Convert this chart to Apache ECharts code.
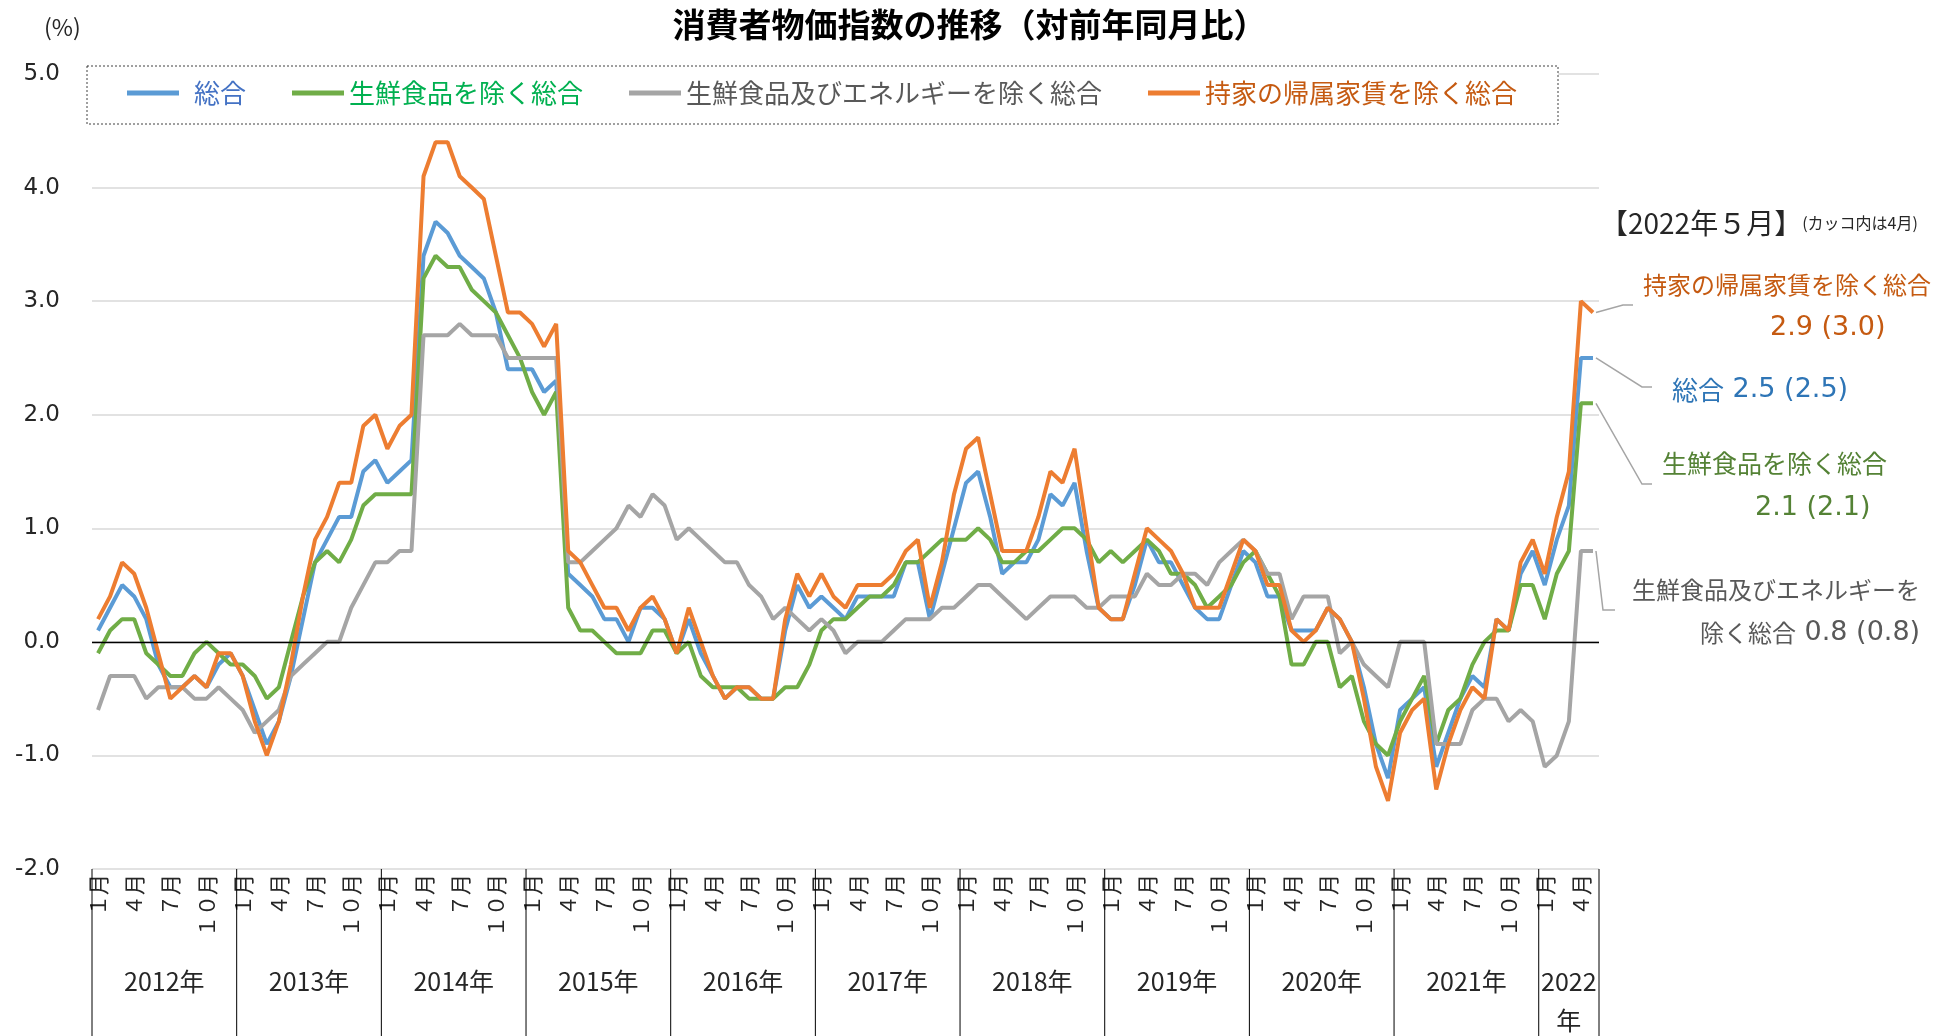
<!DOCTYPE html>
<html>
<head>
<meta charset="utf-8">
<title>消費者物価指数の推移</title>
<script src="https://cdn.jsdelivr.net/npm/echarts@6/dist/echarts.min.js"></script>
<style>
  html, body { margin: 0; padding: 0; background: #fff; }
  #chart { width: 1939px; height: 1036px; }
</style>
</head>
<body>
<div id="chart"></div>
<script>
const years = [2012, 2013, 2014, 2015, 2016, 2017, 2018, 2019, 2020, 2021, 2022]
const monthNames = ['１月', '２月', '３月', '４月', '５月', '６月', '７月', '８月', '９月', '１０月', '１１月', '１２月']

// 総合
const headline = [
  0.1, 0.3, 0.5, 0.4, 0.2, -0.2, -0.4, -0.4, -0.3, -0.4, -0.2, -0.1,
  -0.3, -0.6, -0.9, -0.7, -0.3, 0.2, 0.7, 0.9, 1.1, 1.1, 1.5, 1.6,
  1.4, 1.5, 1.6, 3.4, 3.7, 3.6, 3.4, 3.3, 3.2, 2.9, 2.4, 2.4,
  2.4, 2.2, 2.3, 0.6, 0.5, 0.4, 0.2, 0.2, 0.0, 0.3, 0.3, 0.2,
  -0.1, 0.2, -0.1, -0.3, -0.5, -0.4, -0.4, -0.5, -0.5, 0.1, 0.5, 0.3,
  0.4, 0.3, 0.2, 0.4, 0.4, 0.4, 0.4, 0.7, 0.7, 0.2, 0.6, 1.0,
  1.4, 1.5, 1.1, 0.6, 0.7, 0.7, 0.9, 1.3, 1.2, 1.4, 0.8, 0.3,
  0.2, 0.2, 0.5, 0.9, 0.7, 0.7, 0.5, 0.3, 0.2, 0.2, 0.5, 0.8,
  0.7, 0.4, 0.4, 0.1, 0.1, 0.1, 0.3, 0.2, 0.0, -0.4, -0.9, -1.2,
  -0.6, -0.5, -0.4, -1.1, -0.8, -0.5, -0.3, -0.4, 0.2, 0.1, 0.6, 0.8,
  0.5, 0.9, 1.2, 2.5, 2.5
]
// 生鮮食品を除く総合
const core = [
  -0.1, 0.1, 0.2, 0.2, -0.1, -0.2, -0.3, -0.3, -0.1, 0.0, -0.1, -0.2,
  -0.2, -0.3, -0.5, -0.4, 0.0, 0.4, 0.7, 0.8, 0.7, 0.9, 1.2, 1.3,
  1.3, 1.3, 1.3, 3.2, 3.4, 3.3, 3.3, 3.1, 3.0, 2.9, 2.7, 2.5,
  2.2, 2.0, 2.2, 0.3, 0.1, 0.1, 0.0, -0.1, -0.1, -0.1, 0.1, 0.1,
  -0.1, 0.0, -0.3, -0.4, -0.4, -0.4, -0.5, -0.5, -0.5, -0.4, -0.4, -0.2,
  0.1, 0.2, 0.2, 0.3, 0.4, 0.4, 0.5, 0.7, 0.7, 0.8, 0.9, 0.9,
  0.9, 1.0, 0.9, 0.7, 0.7, 0.8, 0.8, 0.9, 1.0, 1.0, 0.9, 0.7,
  0.8, 0.7, 0.8, 0.9, 0.8, 0.6, 0.6, 0.5, 0.3, 0.4, 0.5, 0.7,
  0.8, 0.6, 0.4, -0.2, -0.2, 0.0, 0.0, -0.4, -0.3, -0.7, -0.9, -1.0,
  -0.7, -0.5, -0.3, -0.9, -0.6, -0.5, -0.2, 0.0, 0.1, 0.1, 0.5, 0.5,
  0.2, 0.6, 0.8, 2.1, 2.1
]
// 生鮮食品及びエネルギーを除く総合
const coreCore = [
  -0.6, -0.3, -0.3, -0.3, -0.5, -0.4, -0.4, -0.4, -0.5, -0.5, -0.4, -0.5,
  -0.6, -0.8, -0.7, -0.6, -0.3, -0.2, -0.1, 0.0, 0.0, 0.3, 0.5, 0.7,
  0.7, 0.8, 0.8, 2.7, 2.7, 2.7, 2.8, 2.7, 2.7, 2.7, 2.5, 2.5,
  2.5, 2.5, 2.5, 0.7, 0.7, 0.8, 0.9, 1.0, 1.2, 1.1, 1.3, 1.2,
  0.9, 1.0, 0.9, 0.8, 0.7, 0.7, 0.5, 0.4, 0.2, 0.3, 0.2, 0.1,
  0.2, 0.1, -0.1, 0.0, 0.0, 0.0, 0.1, 0.2, 0.2, 0.2, 0.3, 0.3,
  0.4, 0.5, 0.5, 0.4, 0.3, 0.2, 0.3, 0.4, 0.4, 0.4, 0.3, 0.3,
  0.4, 0.4, 0.4, 0.6, 0.5, 0.5, 0.6, 0.6, 0.5, 0.7, 0.8, 0.9,
  0.8, 0.6, 0.6, 0.2, 0.4, 0.4, 0.4, -0.1, 0.0, -0.2, -0.3, -0.4,
  0.0, 0.0, 0.0, -0.9, -0.9, -0.9, -0.6, -0.5, -0.5, -0.7, -0.6, -0.7,
  -1.1, -1.0, -0.7, 0.8, 0.8
]
// 持家の帰属家賃を除く総合
const exRent = [
  0.2, 0.4, 0.7, 0.6, 0.3, -0.1, -0.5, -0.4, -0.3, -0.4, -0.1, -0.1,
  -0.3, -0.7, -1.0, -0.7, -0.2, 0.4, 0.9, 1.1, 1.4, 1.4, 1.9, 2.0,
  1.7, 1.9, 2.0, 4.1, 4.4, 4.4, 4.1, 4.0, 3.9, 3.4, 2.9, 2.9,
  2.8, 2.6, 2.8, 0.8, 0.7, 0.5, 0.3, 0.3, 0.1, 0.3, 0.4, 0.2,
  -0.1, 0.3, 0.0, -0.3, -0.5, -0.4, -0.4, -0.5, -0.5, 0.2, 0.6, 0.4,
  0.6, 0.4, 0.3, 0.5, 0.5, 0.5, 0.6, 0.8, 0.9, 0.3, 0.7, 1.3,
  1.7, 1.8, 1.3, 0.8, 0.8, 0.8, 1.1, 1.5, 1.4, 1.7, 1.0, 0.3,
  0.2, 0.2, 0.6, 1.0, 0.9, 0.8, 0.6, 0.3, 0.3, 0.3, 0.6, 0.9,
  0.8, 0.5, 0.5, 0.1, 0.0, 0.1, 0.3, 0.2, 0.0, -0.5, -1.1, -1.4,
  -0.8, -0.6, -0.5, -1.3, -0.9, -0.6, -0.4, -0.5, 0.2, 0.1, 0.7, 0.9,
  0.6, 1.1, 1.5, 3.0, 2.9
]

const N = headline.length
const categories = []
years.forEach(y => {
  monthNames.forEach(m => {
    if (categories.length < N) categories.push(y + '年' + m)
  })
})

const JP = 'Noto Sans CJK JP'
const NUM = 'DejaVu Sans'

const seriesDefs = [
  { name: '総合', data: headline, color: '#5B9BD5', legendColor: '#4472C4', noteColor: '#2E75B6' },
  { name: '生鮮食品を除く総合', data: core, color: '#70AD47', legendColor: '#00B050', noteColor: '#548235' },
  { name: '生鮮食品及びエネルギーを除く総合', data: coreCore, color: '#A5A5A5', legendColor: '#595959', noteColor: '#595959' },
  { name: '持家の帰属家賃を除く総合', data: exRent, color: '#ED7D31', legendColor: '#C55A11', noteColor: '#C55A11' }
]

const chart = echarts.init(document.getElementById('chart'))

const option = {
  animation: false,
  backgroundColor: '#fff',
  title: {
    text: '消費者物価指数の推移（対前年同月比）',
    left: 'center',
    top: 8,
    padding: 0,
    textStyle: { fontFamily: JP, fontSize: 33, fontWeight: 'bold', color: '#000' }
  },
  legend: {
    left: 127,
    top: 80,
    padding: 0,
    icon: 'rect',
    itemWidth: 52,
    itemHeight: 5,
    itemGap: 46,
    textStyle: { fontFamily: JP, fontSize: 26 },
    data: seriesDefs.map((s, i) => ({
      name: s.name,
      textStyle: { color: s.legendColor, padding: i === 0 ? [0, 0, 0, 10] : 0 }
    }))
  },
  grid: { left: 92, right: 340, top: 74, bottom: 167, outerBoundsMode: 'none' },
  xAxis: {
    type: 'category',
    data: categories,
    boundaryGap: true,
    axisLine: { show: false },
    axisTick: { show: false },
    splitLine: { show: false },
    axisLabel: {
      interval: (idx) => idx % 3 === 0,
      rotate: 90,
      margin: 5,
      fontFamily: JP,
      fontSize: 21,
      color: '#262626',
      formatter: v => v.split('年')[1]
    }
  },
  yAxis: {
    type: 'value',
    min: -2,
    max: 5,
    interval: 1,
    axisLine: { show: false },
    axisTick: { show: false },
    splitLine: { lineStyle: { color: '#d9d9d9', width: 1.5 } },
    axisLabel: {
      margin: 32,
      fontFamily: NUM,
      fontSize: 23,
      color: '#262626',
      formatter: v => v.toFixed(1)
    }
  },
  series: seriesDefs.map((s, i) => ({
    name: s.name,
    type: 'line',
    data: s.data,
    symbol: 'none',
    color: s.color,
    lineStyle: { color: s.color, width: 4 },
    emphasis: { disabled: true },
    markLine: i === 0 ? {
      silent: true,
      symbol: 'none',
      label: { show: false },
      lineStyle: { color: '#000', width: 1.3, type: 'solid' },
      data: [{ yAxis: 0 }]
    } : undefined
  }))
}

chart.setOption(option)

// 目盛り区切り線・年ラベル・注記（軸の換算で位置を出す）
const xc = i => chart.convertToPixel({ xAxisIndex: 0 }, i)
const step = xc(1) - xc(0)
const bx = i => (i < N ? xc(i) - step / 2 : xc(N - 1) + step / 2)
const yBottom = chart.convertToPixel({ yAxisIndex: 0 }, -2)

const elements = []

// 凡例の点線枠
elements.push({
  type: 'rect', z: 1,
  shape: { x: 87, y: 66, width: 1471, height: 58 },
  style: { fill: '#fff', stroke: '#404040', lineWidth: 1, lineDash: [2, 2] }
})

elements.push({
  type: 'text', z: 5,
  style: { text: '(%)', x: 44, y: 27, verticalAlign: 'middle', font: '23px "' + JP + '"', fill: '#262626' }
})

const bounds = []
years.forEach((y, k) => {
  const s = k * 12
  if (s < N) bounds.push({ year: y, start: s, end: Math.min(s + 12, N) })
})
bounds.forEach(b => {
  elements.push({
    type: 'line', z: 5,
    shape: { x1: bx(b.start), y1: yBottom, x2: bx(b.start), y2: 1036 },
    style: { stroke: '#000', lineWidth: 1 }
  })
  const full = b.end - b.start === 12
  elements.push({
    type: 'text', z: 5,
    style: {
      text: full ? b.year + '年' : b.year + '\n年',
      x: (bx(b.start) + bx(b.end)) / 2,
      y: yBottom + 112 - 19,
      align: 'center',
      verticalAlign: 'top',
      lineHeight: 39,
      font: '25px "' + JP + '"',
      fill: '#262626'
    }
  })
})
elements.push({
  type: 'line', z: 5,
  shape: { x1: bx(N), y1: yBottom, x2: bx(N), y2: 1036 },
  style: { stroke: '#000', lineWidth: 1 }
})

// 右側の注記
elements.push({
  type: 'text', z: 5,
  style: {
    x: 1600, y: 223, verticalAlign: 'middle',
    text: '{a|【2022年５月】}{b|(カッコ内は4月)}',
    rich: {
      a: { fontFamily: JP, fontSize: 28, fill: '#262626' },
      b: { fontFamily: JP, fontSize: 16, fill: '#262626' }
    }
  }
})

const vals = arr => arr[N - 1].toFixed(1) + ' (' + arr[N - 2].toFixed(1) + ')'
const notes = [
  { def: seriesDefs[3], lines: [[1643, 285, 'n', 24, seriesDefs[3].name], [1770, 328, 'v', 27, vals(exRent)]], lead: [[1623, 305], [1633, 305]] },
  { def: seriesDefs[0], lines: [[1672, 390, 'nv', 26, '総合', ' ' + vals(headline)]], lead: [[1642, 387], [1652, 387]] },
  { def: seriesDefs[1], lines: [[1662, 463, 'n', 25, seriesDefs[1].name], [1755, 508, 'v', 27, vals(core)]], lead: [[1642, 484], [1652, 484]] },
  { def: seriesDefs[2], lines: [[1632, 590, 'n', 24, '生鮮食品及びエネルギーを'], [1700, 633, 'nv', 24, '除く総合', ' ' + vals(coreCore)]], lead: [[1603, 610], [1615, 610]] }
]
notes.forEach(nt => {
  const c = nt.def.noteColor
  nt.lines.forEach(l => {
    let text
    if (l[2] === 'n') text = '{n|' + l[4] + '}'
    else if (l[2] === 'v') text = '{v|' + l[4] + '}'
    else text = '{n|' + l[4] + '}{v|' + l[5] + '}'
    elements.push({
      type: 'text', z: 5,
      style: {
        x: l[0], y: l[1], verticalAlign: 'middle', text,
        rich: {
          n: { fontFamily: JP, fontSize: l[3], fill: c },
          v: { fontFamily: NUM, fontSize: 27, fill: c }
        }
      }
    })
  })
  const arr = nt.def.data
  const p = chart.convertToPixel('grid', [categories[N - 1], arr[N - 1]])
  elements.push({
    type: 'polyline', z: 5,
    shape: { points: [[p[0] + 3, p[1]]].concat(nt.lead) },
    style: { stroke: '#a5a5a5', lineWidth: 1.5, fill: null }
  })
})

chart.setOption({ graphic: { elements } })
</script>
</body>
</html>
